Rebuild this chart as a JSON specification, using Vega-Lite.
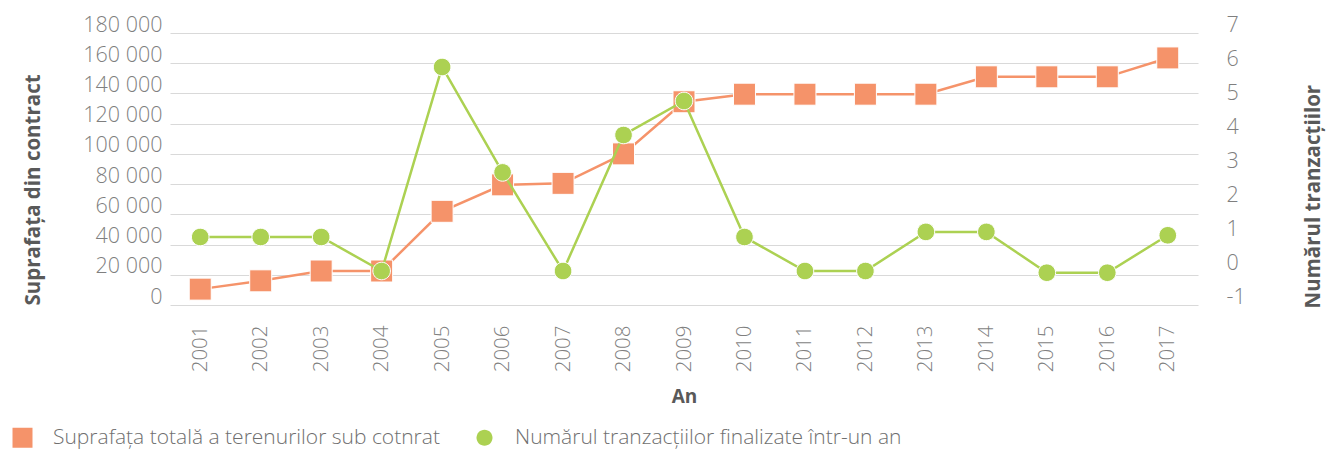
{
  "$schema": "https://vega.github.io/schema/vega-lite/v6.json",
  "width": 1028,
  "height": 272,
  "autosize": {"type": "none"},
  "padding": {"left": 170, "top": 33, "right": 130, "bottom": 145},
  "config": {"view": {"stroke": null}, "font": "Open Sans"},
  "data": {"values": [
    {"year": "2001", "series": "Suprafața totală a terenurilor sub cotnrat", "value": 10500},
    {"year": "2002", "series": "Suprafața totală a terenurilor sub cotnrat", "value": 16000},
    {"year": "2003", "series": "Suprafața totală a terenurilor sub cotnrat", "value": 22500},
    {"year": "2004", "series": "Suprafața totală a terenurilor sub cotnrat", "value": 22500},
    {"year": "2005", "series": "Suprafața totală a terenurilor sub cotnrat", "value": 62000},
    {"year": "2006", "series": "Suprafața totală a terenurilor sub cotnrat", "value": 79500},
    {"year": "2007", "series": "Suprafața totală a terenurilor sub cotnrat", "value": 80500},
    {"year": "2008", "series": "Suprafața totală a terenurilor sub cotnrat", "value": 100000},
    {"year": "2009", "series": "Suprafața totală a terenurilor sub cotnrat", "value": 134500},
    {"year": "2010", "series": "Suprafața totală a terenurilor sub cotnrat", "value": 139500},
    {"year": "2011", "series": "Suprafața totală a terenurilor sub cotnrat", "value": 139500},
    {"year": "2012", "series": "Suprafața totală a terenurilor sub cotnrat", "value": 139500},
    {"year": "2013", "series": "Suprafața totală a terenurilor sub cotnrat", "value": 139500},
    {"year": "2014", "series": "Suprafața totală a terenurilor sub cotnrat", "value": 151000},
    {"year": "2015", "series": "Suprafața totală a terenurilor sub cotnrat", "value": 151000},
    {"year": "2016", "series": "Suprafața totală a terenurilor sub cotnrat", "value": 151000},
    {"year": "2017", "series": "Suprafața totală a terenurilor sub cotnrat", "value": 163500},
    {"year": "2001", "series": "Numărul tranzacțiilor finalizate într-un an", "value": 1},
    {"year": "2002", "series": "Numărul tranzacțiilor finalizate într-un an", "value": 1},
    {"year": "2003", "series": "Numărul tranzacțiilor finalizate într-un an", "value": 1},
    {"year": "2004", "series": "Numărul tranzacțiilor finalizate într-un an", "value": 0},
    {"year": "2005", "series": "Numărul tranzacțiilor finalizate într-un an", "value": 6},
    {"year": "2006", "series": "Numărul tranzacțiilor finalizate într-un an", "value": 2.9},
    {"year": "2007", "series": "Numărul tranzacțiilor finalizate într-un an", "value": 0},
    {"year": "2008", "series": "Numărul tranzacțiilor finalizate într-un an", "value": 4},
    {"year": "2009", "series": "Numărul tranzacțiilor finalizate într-un an", "value": 5},
    {"year": "2010", "series": "Numărul tranzacțiilor finalizate într-un an", "value": 1},
    {"year": "2011", "series": "Numărul tranzacțiilor finalizate într-un an", "value": 0},
    {"year": "2012", "series": "Numărul tranzacțiilor finalizate într-un an", "value": 0},
    {"year": "2013", "series": "Numărul tranzacțiilor finalizate într-un an", "value": 1.15},
    {"year": "2014", "series": "Numărul tranzacțiilor finalizate într-un an", "value": 1.15},
    {"year": "2015", "series": "Numărul tranzacțiilor finalizate într-un an", "value": -0.05},
    {"year": "2016", "series": "Numărul tranzacțiilor finalizate într-un an", "value": -0.05},
    {"year": "2017", "series": "Numărul tranzacțiilor finalizate într-un an", "value": 1.05}
  ]},
  "encoding": {
    "x": {
      "field": "year", "type": "ordinal",
      "scale": {"type": "point", "padding": 0.5},
      "axis": {
        "title": "An", "labelAngle": 270, "labelPadding": 20, "ticks": false, "domain": false, "grid": false,
        "labelFontSize": 20.5, "labelColor": "#7f7f7f", "labelFontWeight": 300, "labelFont": "Open Sans",
        "titleFontSize": 19, "titleFontWeight": "bold", "titleColor": "#595959", "titleFont": "Open Sans",
        "titleY": 91, "titleBaseline": "middle"
      }
    }
  },
  "layer": [
    {
      "transform": [{"filter": {"field": "series", "equal": "Suprafața totală a terenurilor sub cotnrat"}}],
      "encoding": {
        "y": {
          "field": "value", "type": "quantitative",
          "scale": {"domain": [0, 180000], "nice": false},
          "axis": {
            "orient": "left", "title": "Suprafața din contract",
            "values": [0, 20000, 40000, 60000, 80000, 100000, 120000, 140000, 160000, 180000],
            "grid": true, "gridColor": "#d9d9d9", "ticks": false, "domain": false,
            "labelPadding": 8, "labelOffset": -8,
            "labelExpr": "replace(format(datum.value, ',d'), ',', ' ')",
            "labelFontSize": 21.5, "labelColor": "#7f7f7f", "labelFontWeight": 300, "labelFont": "Open Sans",
            "titleFontSize": 20.5, "titleFontWeight": "bold", "titleColor": "#595959", "titleFont": "Open Sans",
            "titleAngle": 270, "titleX": -137, "titleY": 272, "titleAlign": "left", "titleBaseline": "middle"
          }
        }
      },
      "layer": [
        {"mark": {"type": "line", "color": "#F5936A", "strokeWidth": 2.5}},
        {
          "mark": {"type": "point", "filled": true, "opacity": 1, "size": 484, "stroke": "white", "strokeWidth": 1},
          "encoding": {
            "color": {
              "field": "series", "type": "nominal",
              "scale": {"domain": ["Suprafața totală a terenurilor sub cotnrat", "Numărul tranzacțiilor finalizate într-un an"], "range": ["#F5936A", "#ACD152"]},
              "legend": {
                "orient": "none", "legendX": -158, "legendY": 394, "direction": "horizontal", "title": null,
                "symbolSize": 400, "labelFontSize": 21, "labelColor": "#6f6f6f", "labelFontWeight": 300, "labelFont": "Open Sans",
                "columnPadding": 34, "labelOffset": 20, "symbolStrokeWidth": 0, "labelLimit": 600
              }
            },
            "shape": {
              "field": "series", "type": "nominal",
              "scale": {"domain": ["Suprafața totală a terenurilor sub cotnrat", "Numărul tranzacțiilor finalizate într-un an"], "range": ["M-1,-1H1V1H-1Z", "M0.8,0A0.8,0.8,0,1,1,-0.8,0A0.8,0.8,0,1,1,0.8,0Z"]}
            }
          }
        }
      ]
    },
    {
      "transform": [{"filter": {"field": "series", "equal": "Numărul tranzacțiilor finalizate într-un an"}}],
      "encoding": {
        "y": {
          "field": "value", "type": "quantitative",
          "scale": {"domain": [-1, 7], "nice": false, "zero": false},
          "axis": {
            "orient": "right", "title": "Numărul tranzacțiilor",
            "values": [-1, 0, 1, 2, 3, 4, 5, 6, 7],
            "grid": false, "ticks": false, "domain": false,
            "labelPadding": 28, "labelOffset": -8,
            "labelExpr": "datum.value + ''",
            "labelFontSize": 21.5, "labelColor": "#7f7f7f", "labelFontWeight": 300, "labelFont": "Open Sans",
            "titleFontSize": 20.5, "titleFontWeight": "bold", "titleColor": "#595959", "titleFont": "Open Sans",
            "titleAngle": 270, "titleX": 115, "titleY": 275, "titleAlign": "left", "titleBaseline": "middle"
          }
        }
      },
      "layer": [
        {"mark": {"type": "line", "color": "#ACD152", "strokeWidth": 2.5}},
        {
          "mark": {"type": "point", "filled": true, "opacity": 1, "size": 484, "stroke": "white", "strokeWidth": 1},
          "encoding": {
            "color": {"field": "series", "type": "nominal"},
            "shape": {"field": "series", "type": "nominal"}
          }
        }
      ]
    }
  ],
  "resolve": {"scale": {"y": "independent"}}
}
